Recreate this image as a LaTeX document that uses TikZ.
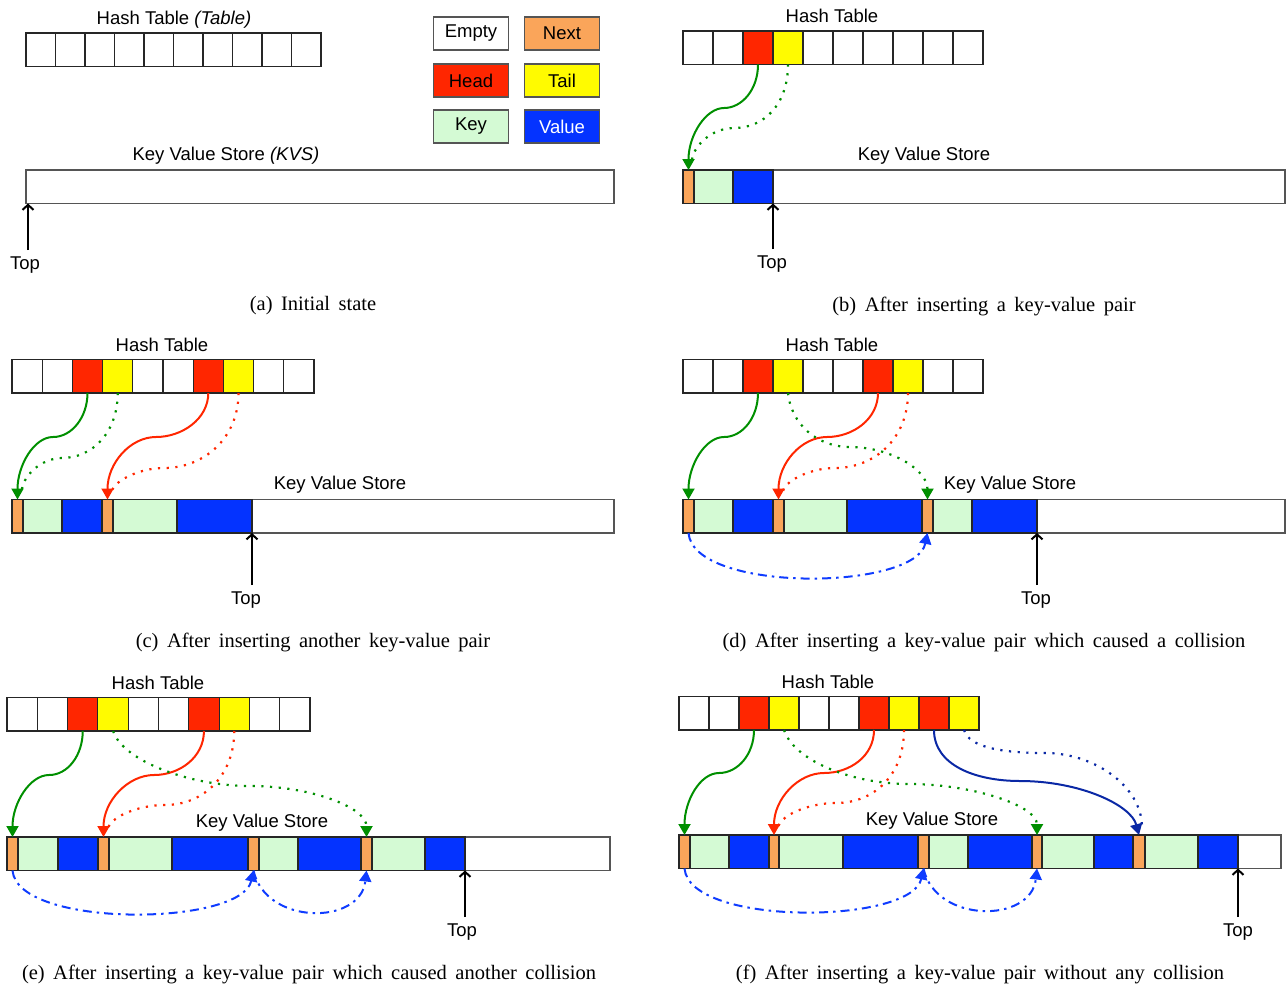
\documentclass[tikz,border=0pt]{standalone}
\usepackage{fontspec}
\setmainfont{Liberation Serif}
\newfontfamily\labfont{Liberation Sans}
\usetikzlibrary{arrows.meta}
\definecolor{headc}{HTML}{FF2600}
\definecolor{tailc}{HTML}{FFFB00}
\definecolor{nextc}{HTML}{FAA55A}
\definecolor{keyc}{HTML}{D4FAD4}
\definecolor{valc}{HTML}{0433FF}
\definecolor{greenc}{HTML}{008F00}
\definecolor{navyc}{HTML}{0A28A5}
\definecolor{ddblue}{HTML}{0F3CFF}
\definecolor{framec}{HTML}{555555}
\newcommand\capfont{\fontsize{20.5}{24}\selectfont\spaceskip=8.5pt plus 1pt\relax}
\newcommand\lfont{\labfont\fontsize{18.5}{20}\selectfont}
\tikzset{
  hcell/.style={draw=black!85, line width=1.1pt, anchor=north west, inner sep=0pt, outer sep=0pt, minimum height=33.5pt},
  seg/.style={draw=black!85, line width=1.1pt, anchor=north west, inner sep=0pt, outer sep=0pt, minimum height=33.5pt},
  kvsbox/.style={draw=framec, line width=1.3pt, anchor=north west, inner sep=0pt, outer sep=0pt, minimum height=33.5pt},
  legbox/.style={draw=framec, line width=1.1pt, minimum width=75pt, minimum height=33pt, inner sep=0pt, font=\lfont},
  lab/.style={font=\lfont, inner sep=0pt},
  toplab/.style={lab, outer ysep=6.5pt},
  captext/.style={font=\capfont, inner sep=0pt},
  conn/.style={line width=2pt},
  headtip/.style={-{Triangle[length=11pt,width=12pt]}},
  dotline/.style={line width=2.2pt, dash pattern=on 2.2pt off 6.5pt},
  ddash/.style={ddblue, line width=2pt, dash pattern=on 9pt off 5pt on 2.5pt off 5pt, -{Triangle[length=11pt,width=12pt]}},
  topar/.style={line width=2pt, -{Straight Barb[length=5pt,width=11pt]}},
}
\newcommand\htable[5]{\foreach \cl [count=\i] in {#5}
  \node[hcell, fill=\cl, minimum width=#4pt] (#1-h\i) at ({#2+#4*(\i-1)},#3) {};}
\newcommand\kvsbar[3]{\foreach \xa/\xb/\cl [count=\i] in {#3}
  \node[seg, fill=\cl, minimum width={(\xb-\xa)*1pt}] (#1-s\i) at (\xa,#2) {};}
\begin{document}
\begin{tikzpicture}[x=1pt,y=-1pt]
\useasboundingbox (0,0) rectangle (1286,986);

% ---------------- (a)
\node[lab] (a-ht) at (174,20) {Hash Table \textit{(Table)}};
\htable{a}{26}{33}{29.5}{white,white,white,white,white,white,white,white,white,white}
\node[legbox, fill=white] (lg-empty) at (471,33.5) {Empty};
\node[legbox, fill=nextc] (lg-next) at (562,33.5) {Next};
\node[legbox, fill=headc] (lg-head) at (471,80.5) {Head};
\node[legbox, fill=tailc] (lg-tail) at (562,80.5) {Tail};
\node[legbox, fill=keyc] (lg-key) at (471,126.5) {Key};
\node[legbox, fill=valc, text=white] (lg-val) at (562,126.5) {Value};
\node[lab] (a-kt) at (226,156) {Key Value Store \textit{(KVS)}};
\node[kvsbox, minimum width=588pt] (a-kvs) at (26,170) {};
\coordinate (a-tp) at ([xshift=2pt]a-kvs.south west);
\node[toplab] (a-top) at (25,265) {Top};
\draw[topar] (a-top.north -| a-tp) -- (a-tp);
\node[captext] (a-cap) at (313,306) {(a) Initial state};

% ---------------- (b)
\node[lab] (b-ht) at (832,16) {Hash Table};
\htable{b}{683}{31}{30}{white,white,headc,tailc,white,white,white,white,white,white}
\node[lab] (b-kt) at (924,156) {Key Value Store};
\node[kvsbox, minimum width=602pt] (b-kvs) at (683,170) {};
\kvsbar{b}{170}{683/694/nextc,694/733/keyc,733/773/valc}
\draw[conn, greenc, headtip] (b-h3.south) .. controls +(0,25) and +(18,0) .. (724,108) .. controls +(-18,0) and +(0,-35) .. (b-s1.north);
\draw[dotline, greenc] (b-h4.south) .. controls +(0,40) and +(30,0) .. (734,128) .. controls +(-22,0) and +(0,-18) .. ([xshift=3pt,yshift=6pt]b-s1.north);
\node[toplab] (b-top) at (772,264) {Top};
\draw[topar] (b-top.north -| b-s3.south east) -- (b-s3.south east);
\node[captext] (b-cap) at (984,306) {(b) After inserting a key-value pair};

% ---------------- (c)
\node[lab] (c-ht) at (162,345) {Hash Table};
\htable{c}{12}{359.5}{30.2}{white,white,headc,tailc,white,white,headc,tailc,white,white}
\node[lab] (c-kt) at (340,485) {Key Value Store};
\node[kvsbox, minimum width=602pt] (c-kvs) at (12,499.5) {};
\kvsbar{c}{499.5}{12/23/nextc,23/62/keyc,62/102/valc,102/113/nextc,113/177/keyc,177/252/valc}
\draw[conn, greenc, headtip] (c-h3.south) .. controls +(0,24) and +(19,0) .. (53,437) .. controls +(-19,0) and +(0,-34) .. (c-s1.north);
\draw[dotline, greenc] (c-h4.south) .. controls +(0,40) and +(30,0) .. (62,458) .. controls +(-20,0) and +(0,-18) .. ([xshift=4pt,yshift=6pt]c-s1.north);
\draw[conn, headc, headtip] (c-h7.south) .. controls +(0,26) and +(26,0) .. (156,437) .. controls +(-26,0) and +(0,-36) .. (c-s4.north);
\draw[dotline, headc] (c-h8.south) .. controls +(0,45) and +(40,0) .. (164,468) .. controls +(-25,0) and +(0,-12) .. ([xshift=4pt,yshift=6pt]c-s4.north);
\node[toplab] (c-top) at (246,600) {Top};
\draw[topar] (c-top.north -| c-s6.south east) -- (c-s6.south east);
\node[captext] (c-cap) at (313,642) {(c) After inserting another key-value pair};

% ---------------- (d)
\node[lab] (d-ht) at (832,345) {Hash Table};
\htable{d}{683}{359.5}{30}{white,white,headc,tailc,white,white,headc,tailc,white,white}
\node[lab] (d-kt) at (1010,485) {Key Value Store};
\node[kvsbox, minimum width=602pt] (d-kvs) at (683,499.5) {};
\kvsbar{d}{499.5}{683/694/nextc,694/733/keyc,733/773/valc,773/784/nextc,784/847/keyc,847/922/valc,922/933/nextc,933/972/keyc,972/1037/valc}
\draw[conn, greenc, headtip] (d-h3.south) .. controls +(0,24) and +(19,0) .. (724,437) .. controls +(-19,0) and +(0,-34) .. (d-s1.north);
\draw[conn, headc, headtip] (d-h7.south) .. controls +(0,26) and +(26,0) .. (827,437) .. controls +(-26,0) and +(0,-36) .. (d-s4.north);
\draw[dotline, headc] (d-h8.south) .. controls +(0,45) and +(40,0) .. (835,468) .. controls +(-25,0) and +(0,-12) .. ([xshift=4pt,yshift=6pt]d-s4.north);
\draw[dotline, greenc, headtip] (d-h4.south) .. controls +(3,30) and +(-34,0) .. (850,447) .. controls +(40,0) and +(0,-30) .. (d-s7.north);
\draw[ddash] (d-s1.south) .. controls +(5,60) and +(-12,58) .. (d-s7.south);
\node[toplab] (d-top) at (1036,600) {Top};
\draw[topar] (d-top.north -| d-s9.south east) -- (d-s9.south east);
\node[captext] (d-cap) at (984,642) {(d) After inserting a key-value pair which caused a collision};

% ---------------- (e)
\node[lab] (e-ht) at (158,683) {Hash Table};
\htable{e}{7}{697.5}{30.3}{white,white,headc,tailc,white,white,headc,tailc,white,white}
\node[lab] (e-kt) at (262,823) {Key Value Store};
\node[kvsbox, minimum width=603pt] (e-kvs) at (7,837) {};
\kvsbar{e}{837}{7/18/nextc,18/58/keyc,58/98/valc,98/109/nextc,109/172/keyc,172/248/valc,248/259/nextc,259/298/keyc,298/361/valc,361/372/nextc,372/425/keyc,425/465/valc}
\draw[conn, greenc, headtip] (e-h3.south) .. controls +(0,24) and +(19,0) .. (49,775) .. controls +(-19,0) and +(0,-34) .. (e-s1.north);
\draw[conn, headc, headtip] (e-h7.south) .. controls +(0,26) and +(26,0) .. (154,775) .. controls +(-26,0) and +(0,-36) .. (e-s4.north);
\draw[dotline, headc] (e-h8.south) .. controls +(0,45) and +(38,0) .. (165,805) .. controls +(-28,0) and +(0,-13) .. ([xshift=4pt,yshift=6pt]e-s4.north);
\draw[dotline, greenc, headtip] (e-h4.south) .. controls +(10,30) and +(-60,0) .. (250,786) .. controls +(60,0) and +(0,-30) .. (e-s10.north);
\draw[ddash] (e-s1.south) .. controls +(5,58) and +(-12,56) .. (e-s7.south);
\draw[ddash] (e-s7.south) .. controls +(12,55) and +(-6,55) .. (e-s10.south);
\node[toplab] (e-top) at (462,932) {Top};
\draw[topar] (e-top.north -| e-s12.south east) -- (e-s12.south east);
\node[captext] (e-cap) at (309,974) {(e) After inserting a key-value pair which caused another collision};

% ---------------- (f)
\node[lab] (f-ht) at (828,682) {Hash Table};
\htable{f}{679}{696.5}{30}{white,white,headc,tailc,white,white,headc,tailc,headc,tailc}
\node[lab] (f-kt) at (932,821) {Key Value Store};
\node[kvsbox, minimum width=602pt] (f-kvs) at (679,835) {};
\kvsbar{f}{835}{679/690/nextc,690/729/keyc,729/769/valc,769/779/nextc,779/843/keyc,843/918/valc,918/929/nextc,929/968/keyc,968/1032/valc,1032/1042/nextc,1042/1094/keyc,1094/1133/valc,1133/1145/nextc,1145/1198/keyc,1198/1238/valc}
\draw[conn, greenc, headtip] (f-h3.south) .. controls +(0,24) and +(19,0) .. (719,773) .. controls +(-19,0) and +(0,-34) .. (f-s1.north);
\draw[conn, headc, headtip] (f-h7.south) .. controls +(0,26) and +(26,0) .. (824,773) .. controls +(-26,0) and +(0,-36) .. (f-s4.north);
\draw[dotline, headc] (f-h8.south) .. controls +(0,45) and +(38,0) .. (836,803) .. controls +(-28,0) and +(0,-13) .. ([xshift=4pt,yshift=6pt]f-s4.north);
\draw[dotline, greenc, headtip] (f-h4.south) .. controls +(10,30) and +(-60,0) .. (910,784) .. controls +(60,0) and +(0,-30) .. (f-s10.north);
\draw[conn, navyc, headtip] (f-h9.south) .. controls +(0,35) and +(-45,0) .. (1020,781) .. controls +(60,0) and +(-8,-30) .. (f-s13.north);
\draw[dotline, navyc] (f-h10.south) .. controls +(5,18) and +(-40,0) .. (1045,753) .. controls +(50,0) and +(0,-40) .. ([xshift=3pt,yshift=8pt]f-s13.north);
\draw[ddash] (f-s1.south) .. controls +(5,58) and +(-12,56) .. (f-s7.south);
\draw[ddash] (f-s7.south) .. controls +(12,55) and +(-6,55) .. (f-s10.south);
\node[toplab] (f-top) at (1238,932) {Top};
\draw[topar] (f-top.north -| f-s15.south east) -- (f-s15.south east);
\node[captext] (f-cap) at (980,974) {(f) After inserting a key-value pair without any collision};
\end{tikzpicture}
\end{document}
